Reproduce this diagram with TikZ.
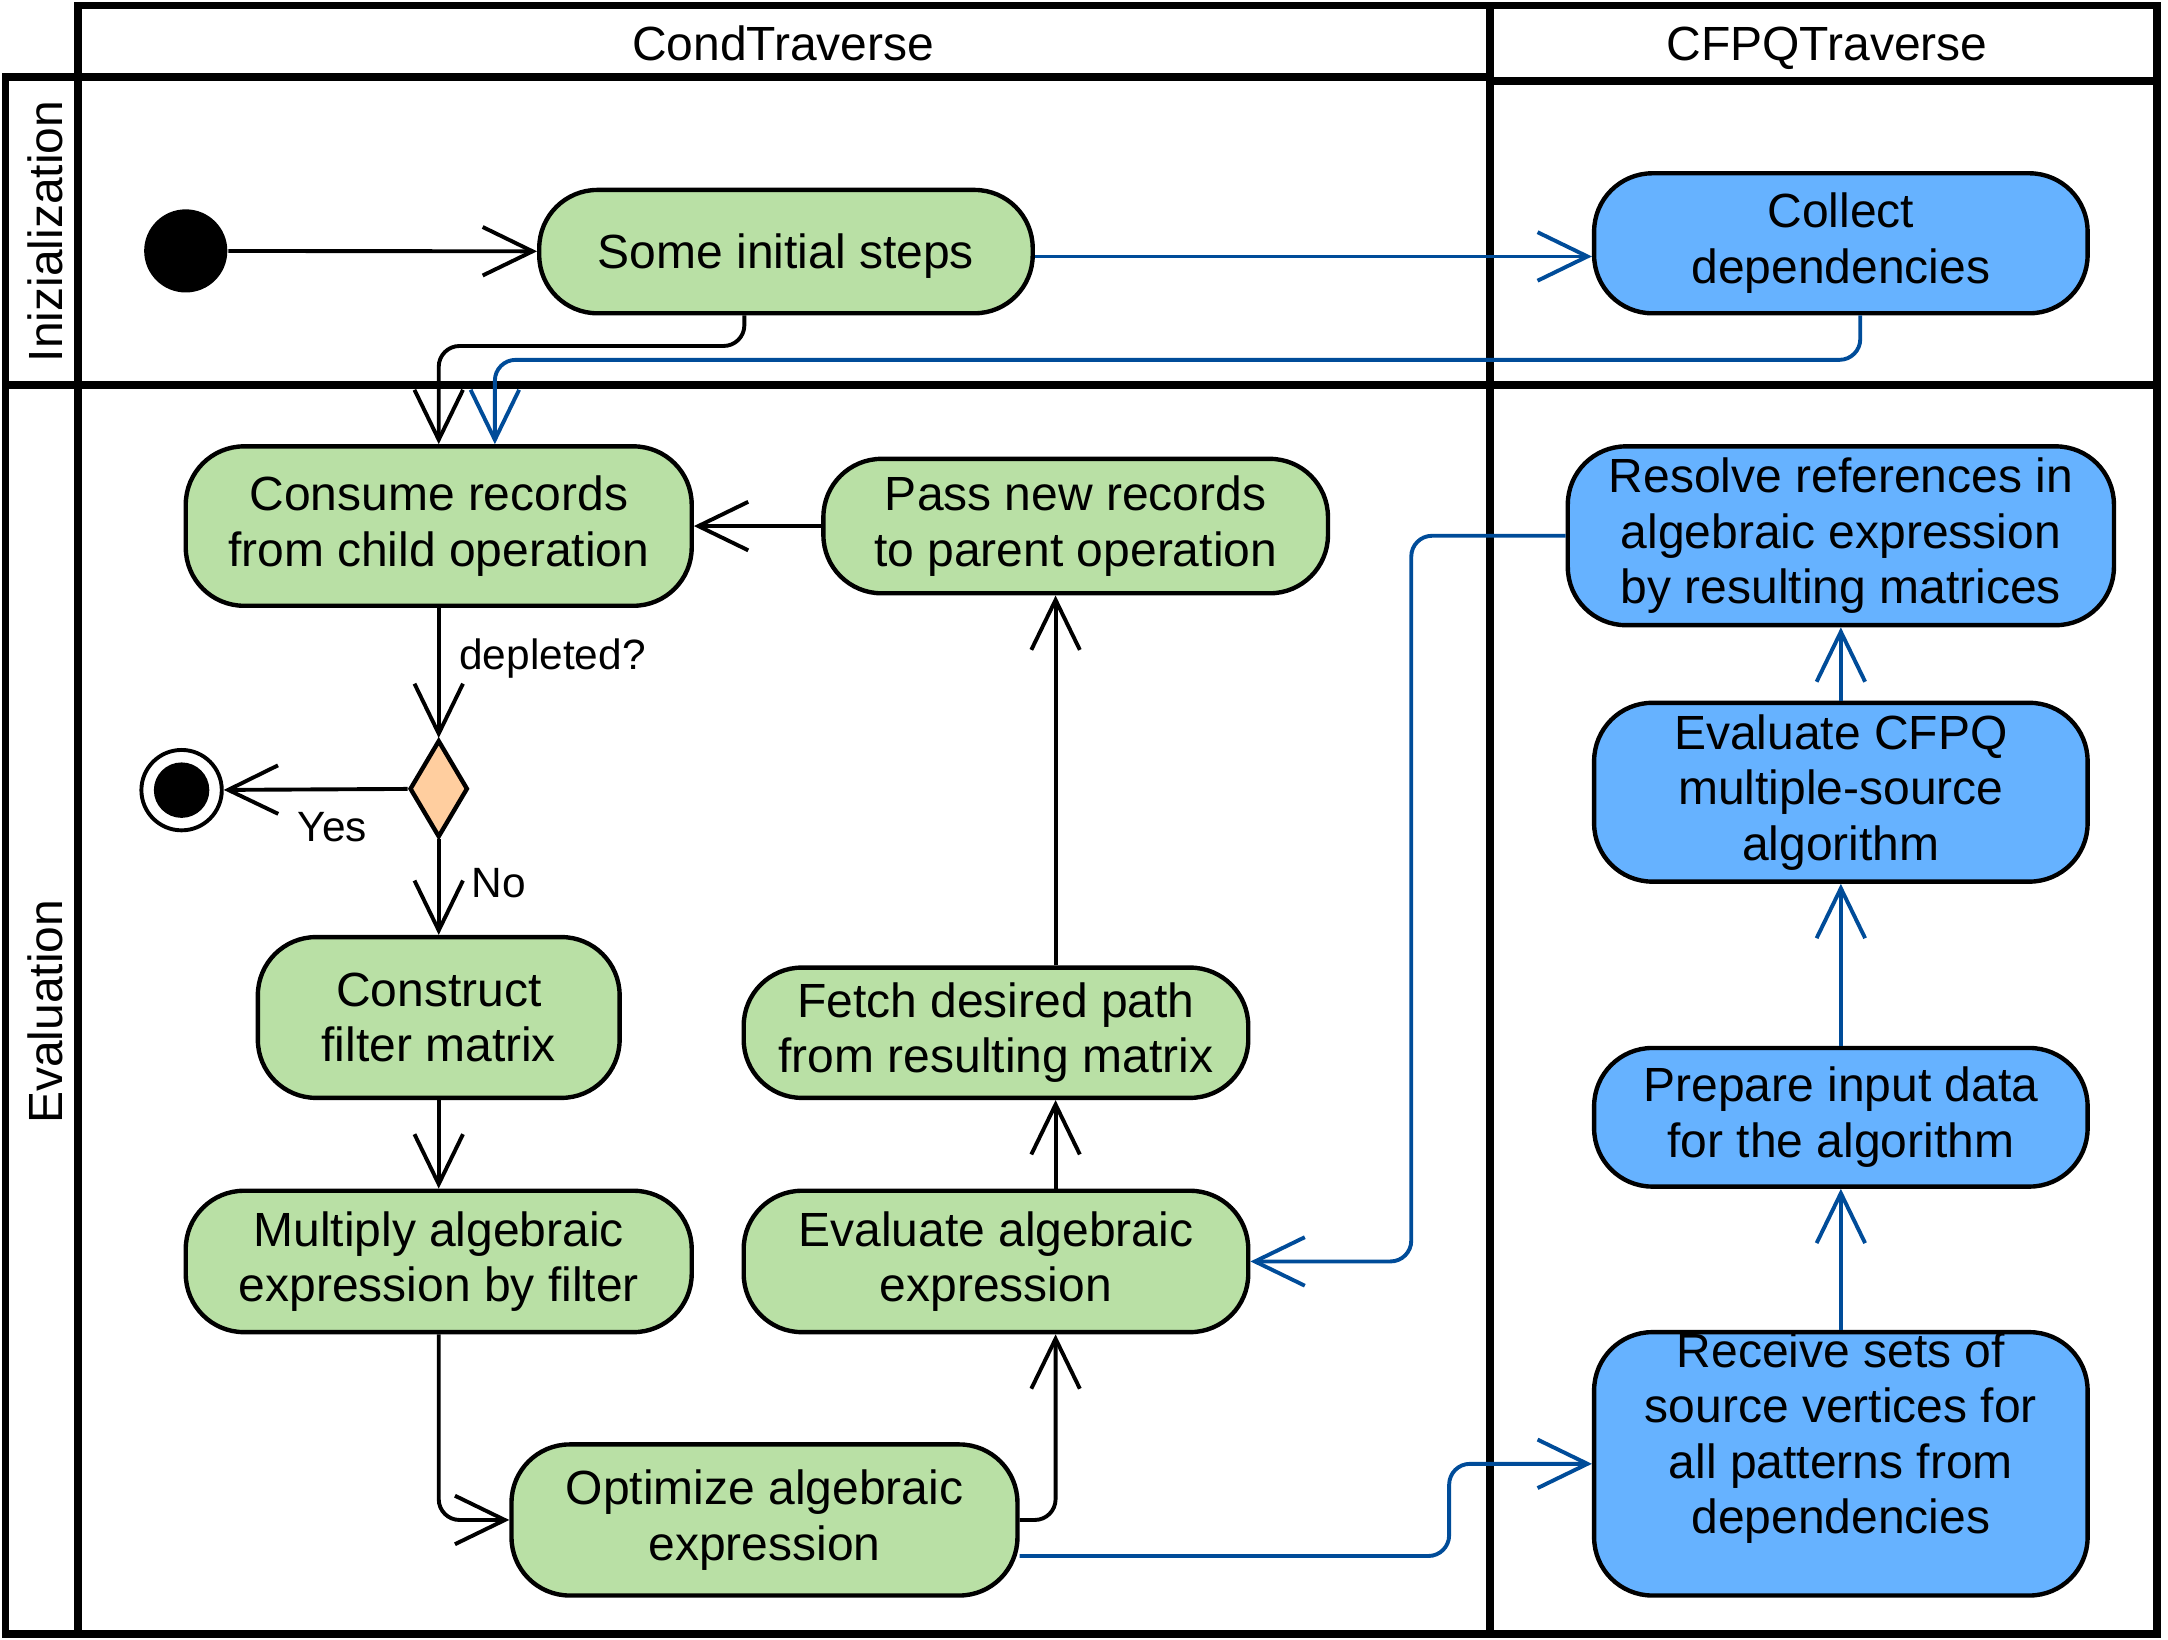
\documentclass[tikz,border=0pt]{standalone}
\usepackage{fontspec}
\setmainfont{Liberation Sans}
\usetikzlibrary{shapes.geometric}
\usetikzlibrary{arrows.meta}
\definecolor{actgreen}{HTML}{B9E0A5}
\definecolor{actblue}{HTML}{66B2FF}
\definecolor{decorange}{HTML}{FFCE9F}
\definecolor{flowblue}{HTML}{004C99}
\tikzset{
    lane/.style = {line width=1.6pt,draw=black},
    act/.style = {rectangle, rounded corners=0.42cm, line width=0.9pt, draw=black, align=center, inner sep=0pt,
        execute at begin node={\rule{0pt}{0.31cm}}},
    actg/.style = {act, fill=actgreen},
    actb/.style = {act, fill=actblue},
    decision/.style = {diamond, line width=0.9pt, draw=black, fill=decorange, minimum width=0.42cm, minimum height=0.70cm, inner sep=0pt},
    startnode/.style = {circle, fill=black, minimum size=0.60cm, inner sep=0pt},
    finalnode/.style = {circle, line width=0.8pt, draw=black, fill=white, minimum size=0.58cm, inner sep=0pt},
    lbl/.style = {font=\fontsize{8.7}{10.4}\selectfont, inner sep=1pt},
    edgen/.style = {-{Straight Barb[length=3.6mm,width=3.5mm]}, line width=0.8pt, rounded corners=0.15cm},
    edgeb/.style = {edgen, flowblue}, % into or out of CFPQTraverse
}
\begin{document}
\begin{tikzpicture}[font=\fontsize{9.85}{11.4}\selectfont]
\path[use as bounding box] (0,0) rectangle (15.64,-11.824);
%
% swimlanes
\draw[lane] (0.56,-0.04) rectangle (15.56,-11.79);
\draw[lane] (0.04,-0.555) rectangle (0.56,-11.79);
\draw[lane] (0.56,-0.555) -- (10.75,-0.555);
\draw[lane] (10.75,-0.585) -- (15.56,-0.585);
\draw[lane] (10.75,-0.04) -- (10.75,-11.79);
\draw[lane] (0.04,-2.775) -- (15.56,-2.775);
\node at (5.65,-0.31) (hcond) {CondTraverse};
\node at (13.18,-0.35) (hcfpq) {CFPQTraverse};
\node[rotate=90] at (0.33,-1.67) (rinit) {Inizialization};
\node[rotate=90] at (0.33,-7.30) (reval) {Evaluation};
%
% CondTraverse
\node[startnode] at (1.34,-1.81) (start) {};
\node[actg, minimum width=3.56cm, minimum height=0.89cm] at (5.67,-1.815) (init) {Some initial steps};
\node[actg, minimum width=3.65cm, minimum height=1.15cm] at (3.165,-3.795) (consume) {Consume records\\from child operation};
\node[actg, minimum width=3.64cm, minimum height=0.97cm] at (7.76,-3.795) (pass) {Pass new records\\to parent operation};
\node[decision] at (3.165,-5.69) (dec) {};
\node[finalnode] at (1.31,-5.70) (final) {};
\fill[black] (final) circle (0.2cm);
\node[actg, minimum width=2.61cm, minimum height=1.16cm] at (3.165,-7.34) (construct) {Construct\\filter matrix};
\node[actg, minimum width=3.64cm, minimum height=0.94cm] at (7.185,-7.45) (fetch) {Fetch desired path\\from resulting matrix};
\node[actg, minimum width=3.65cm, minimum height=1.02cm] at (3.165,-9.10) (multiply) {Multiply algebraic\\expression by filter};
\node[actg, minimum width=3.64cm, minimum height=1.02cm] at (7.185,-9.10) (evalalg) {Evaluate algebraic\\expression};
\node[actg, minimum width=3.65cm, minimum height=1.09cm] at (5.515,-10.965) (optimize) {Optimize algebraic\\expression};
%
% CFPQTraverse
\node[actb, minimum width=3.56cm, minimum height=1.01cm] at (13.28,-1.755) (collect) {Collect\\dependencies};
\node[actb, minimum width=3.94cm, minimum height=1.29cm] at (13.28,-3.865) (resolve) {Resolve references in\\algebraic expression\\by resulting matrices};
\node[actb, minimum width=3.56cm, minimum height=1.29cm] at (13.28,-5.715) (evalcfpq) {Evaluate CFPQ\\multiple-source\\algorithm};
\node[actb, minimum width=3.56cm, minimum height=1.00cm] at (13.28,-8.06) (prepare) {Prepare input data\\for the algorithm};
\node[actb, minimum width=3.56cm, minimum height=1.90cm] at (13.28,-10.56) (receive) {Receive sets of\\source vertices for\\all patterns from\\dependencies\\[0.04cm]\mbox{}};
%
% control flow
\draw[edgen] (start) -- (init);
\draw[edgen] ([xshift=-3mm]init.south) -- ++(0,-0.22) -| (consume.north);
\draw[edgen] (pass) -- (consume);
\draw[edgen] (consume) -- node[lbl, pos=0.39, anchor=west, xshift=0.10cm] {depleted?} (dec);
\draw[edgen] (dec) -- node[lbl, pos=0.41, yshift=-0.27cm] {Yes} (final);
\draw[edgen] (dec) -- node[lbl, pos=0.46, anchor=west, xshift=0.19cm] {No} (construct);
\draw[edgen] (construct) -- (multiply);
\draw[edgen] (multiply.south) |- (optimize.west);
\draw[edgen] (optimize.east) -| ([xshift=0.43cm]evalalg.south);
\draw[edgen] ([xshift=0.43cm]evalalg.north) -- ([xshift=0.43cm]fetch.south);
\draw[edgen] ([xshift=0.43cm]fetch.north) -- ([xshift=-0.145cm]pass.south);
%
\draw[edgeb] ([yshift=-0.35mm]init.east) -- ([yshift=-0.35mm]init.east -| collect.west);
\draw[edgeb] ([xshift=0.14cm]collect.south) -- ++(0,-0.32) -| ([xshift=0.405cm]consume.north);
\draw[edgeb] ([yshift=-2.6mm]optimize.east) -| ([xshift=-1.03cm]receive.west) -- (receive.west);
\draw[edgeb] (receive) -- (prepare);
\draw[edgeb] (prepare) -- (evalcfpq);
\draw[edgeb] (evalcfpq) -- (resolve);
\draw[edgeb] (resolve.west) -| ([xshift=1.16cm]evalalg.east) -- (evalalg.east);

\end{tikzpicture}
\end{document}
